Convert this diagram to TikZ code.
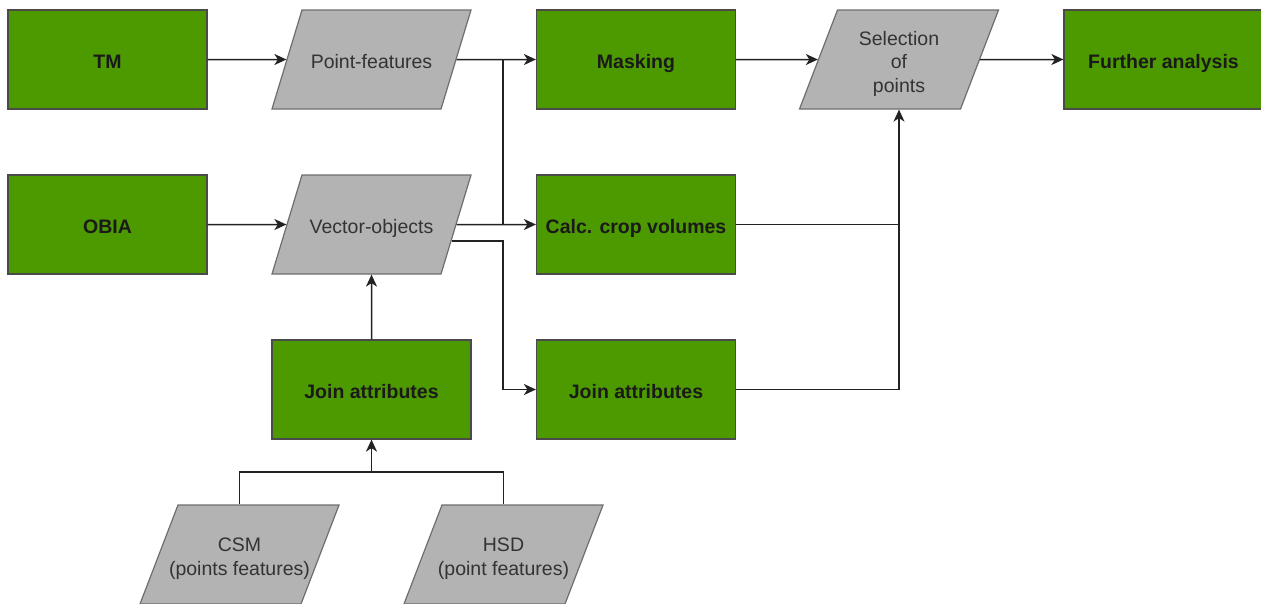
\documentclass[tikz,border=0pt]{standalone}
\usepackage{fontspec}
\setmainfont{Liberation Sans}
\usetikzlibrary{shapes.geometric,arrows.meta,calc}
\definecolor{gfill}{HTML}{4D9900}
\definecolor{gline}{HTML}{4A4A4A}
\definecolor{pfill}{HTML}{B3B3B3}
\definecolor{pline}{HTML}{6E6E6E}
\definecolor{gtext}{HTML}{1A1A1A}
\definecolor{ptext}{HTML}{333333}
\definecolor{conn}{HTML}{222222}
\newcommand\cbox[1]{\vbox to 99pt{\vss\vskip9pt\hbox{\begin{tabular}{@{}c@{}}#1\end{tabular}}\vss}}
\newcommand\pbox[1]{\hbox to 100pt{\hss\cbox{#1}\hss}}
\tikzset{
  procbox/.style={draw=gline, line width=1.2pt, fill=gfill, minimum width=199pt, minimum height=99pt,
    inner sep=0pt, font=\fontsize{19.5}{23.4}\selectfont\bfseries, text=gtext},
  databox/.style={trapezium, draw=pline, line width=1.2pt, fill=pfill, trapezium stretches body,
    minimum width=199pt, inner sep=0pt,
    font=\fontsize{19.5}{23.4}\selectfont, text=ptext},
  slantA/.style={trapezium left angle=73.14, trapezium right angle=106.86},
  slantB/.style={trapezium left angle=69.0, trapezium right angle=111.0},
  link/.style={draw=conn, line width=1.5pt},
  arr/.style={link, -{Stealth[length=12pt,width=11pt,inset=3.5pt]}}
}
\begin{document}
\begin{tikzpicture}[x=1pt,y=-1pt]
\useasboundingbox[fill=white] (0,0) rectangle (1261,603);
% row 1
\node[procbox] (tm) at (107.5,59.5) {\cbox{TM}};
\node[databox,slantA] (pf) at (371.5,59.5) {\pbox{Point-features}};
\node[procbox] (mask) at (636,59.5) {\cbox{Masking}};
\node[databox,slantB] (sel) at (899,59.5) {\pbox{Selection\\of\\points}};
\node[procbox] (fa) at (1163.5,59.5) {\cbox{Further analysis}};
% row 2
\node[procbox] (obia) at (107.5,224.5) {\cbox{OBIA}};
\node[databox,slantA] (vo) at (371.5,224.5) {\pbox{Vector-objects}};
\node[procbox] (calc) at (636,224.5) {\cbox{Calc. crop volumes}};
% row 3
\node[procbox] (ja1) at (371.5,389.5) {\cbox{Join attributes}};
\node[procbox] (ja2) at (636,389.5) {\cbox{Join attributes}};
% row 4
\node[databox,slantB] (csm) at (239.5,554.5) {\pbox{CSM\\(points features)}};
\node[databox,slantB] (hsd) at (503.5,554.5) {\pbox{HSD\\(point features)}};
% helper coordinates
\coordinate (jx) at (503,0);
\coordinate (jy) at (371.5,472);
% connectors
\draw[arr] (tm.east) -- (pf.west);
\draw[arr] (obia.east) -- (vo.west);
\draw[arr] (pf.east) -- (mask.west);
\draw[arr] (vo.east) -- (calc.west);
\draw[link] (pf.east -| jx) -- (vo.east -| jx);
\coordinate (vlow) at ($(vo.bottom right corner)!0.333!(vo.top right corner)$);
\draw[arr] (vlow) -- (vlow -| jx) |- (ja2.west);
\draw[arr] (mask.east) -- (sel.west);
\draw[arr] (sel.east) -- (fa.west);
\draw[arr] (calc.east) -| (sel.south);
\draw[link] (ja2.east) -| (calc.east -| sel.south);
\draw[arr] (ja1.north) -- (vo.south);
\draw[link] (csm.north) |- (jy) -| (hsd.north);
\draw[arr] (jy) -- (ja1.south);
\end{tikzpicture}
\end{document}
